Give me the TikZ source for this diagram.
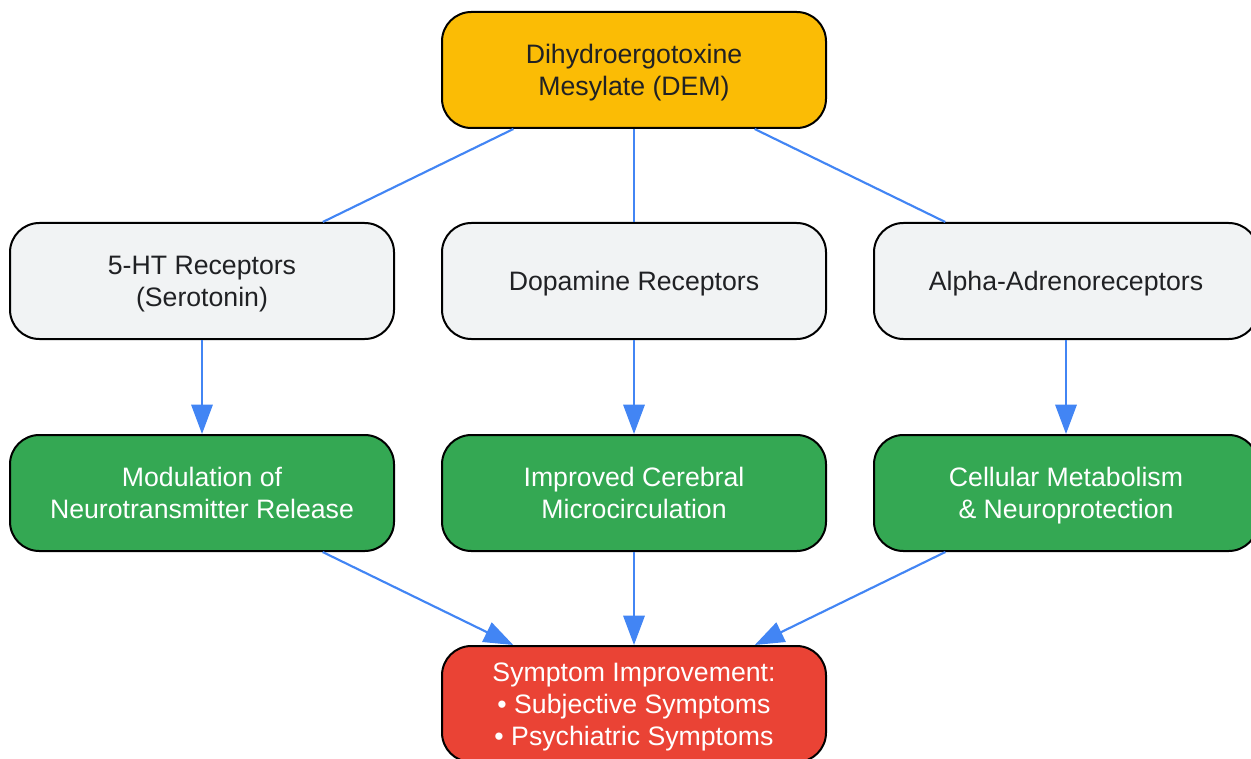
\documentclass[tikz,border=0pt]{standalone}
\usepackage{fontspec}
\setmainfont{Liberation Sans}
\usetikzlibrary{arrows.meta}

\definecolor{demorange}{HTML}{FBBC05}
\definecolor{recgray}{HTML}{F1F3F4}
\definecolor{effgreen}{HTML}{34A853}
\definecolor{symred}{HTML}{EA4335}
\definecolor{linkblue}{HTML}{4285F4}
\definecolor{darktext}{HTML}{202124}

\tikzset{
	box/.style={draw=black, line width=1.5pt, rounded corners=22pt, minimum width=288pt, minimum height=87pt, align=center, text depth=0pt, font=\fontsize{20}{24}\selectfont},
	drugbox/.style={box, fill=demorange, text=darktext},
	recbox/.style={box, fill=recgray, text=darktext},
	effbox/.style={box, fill=effgreen, text=white},
	symbox/.style={box, fill=symred, text=white},
	link/.style={linkblue, line width=1.6pt},
	arrowlink/.style={link, -{Triangle[length=22pt, width=16pt]}}
}

\begin{document}
\begin{tikzpicture}[x=0.75pt, y=-0.75pt]
		\useasboundingbox (0,0) rectangle (1251,759);
		
		%drug
		\node[drugbox] (dem) at (634,70) {Dihydroergotoxine\\Mesylate (DEM)};
		
		%receptors
		\node[recbox] (sero) at (202,281) {5-HT Receptors\\(Serotonin)};
		\node[recbox] (dopa) at (634,281) {Dopamine Receptors};
		\node[recbox] (alpha) at (1066,281) {Alpha-Adrenoreceptors};
		
		%effects
		\node[effbox] (modul) at (202,493) {Modulation of\\Neurotransmitter Release};
		\node[effbox] (circ) at (634,493) {Improved Cerebral\\Microcirculation};
		\node[effbox] (metab) at (1066,493) {Cellular Metabolism\\\& Neuroprotection};
		
		%outcome
		\node[symbox] (sympt) at (634,704) {Symptom Improvement:\\\textbullet{} Subjective Symptoms\\\textbullet{} Psychiatric Symptoms};
		
		%links
		\draw[link] (dem) -- (sero);
		\draw[link] (dem) -- (dopa);
		\draw[link] (dem) -- (alpha);
		
		\draw[arrowlink] (sero) -- (modul);
		\draw[arrowlink] (dopa) -- (circ);
		\draw[arrowlink] (alpha) -- (metab);
		
		\draw[arrowlink] (modul) -- (sympt);
		\draw[arrowlink] (circ) -- (sympt);
		\draw[arrowlink] (metab) -- (sympt);
\end{tikzpicture}
\end{document}
